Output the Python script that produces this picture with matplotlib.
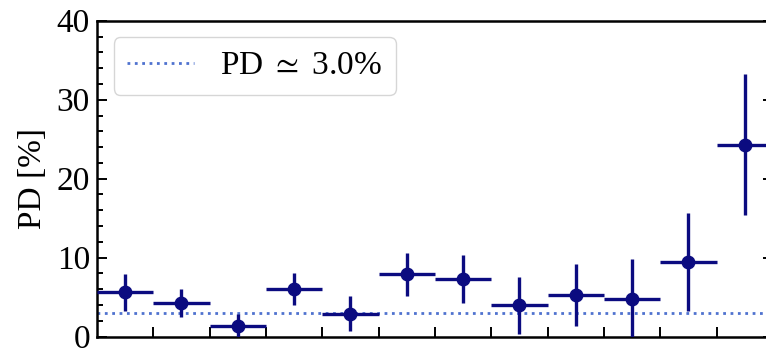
import matplotlib
matplotlib.use("Agg")
import matplotlib.pyplot as plt
import matplotlib.ticker as mticker
import numpy as np

# DATA
bin_centers = [0.5, 1.5, 2.5, 3.5, 4.5, 5.5, 6.5, 7.5, 8.5, 9.5, 10.5, 11.5]
bin_halfwidth = [0.5] * 12
pd_values = [5.6, 4.3, 1.4, 6.0, 2.9, 7.9, 7.3, 4.0, 5.3, 4.8, 9.4, 24.3]
pd_errors = [2.3, 1.8, 1.5, 2.0, 2.2, 2.7, 3.0, 3.6, 3.9, 5.0, 6.2, 8.9]
pd_mean = 3.0
y_ticks = [0, 10, 20, 30, 40]
x_edges = [1, 2, 3, 4, 5, 6, 7, 8, 9, 10, 11]

plt.rcParams["font.family"] = ["Liberation Serif", "DejaVu Serif"]
plt.rcParams["mathtext.fontset"] = "stix"
plt.rcParams["font.size"] = 24

fig = plt.figure(figsize=(7.66, 3.48), dpi=100)
ax = fig.add_axes([0.1266, 0.0325, 0.8825, 0.908])

ax.axhline(pd_mean, color="#4f72cf", linestyle=":", linewidth=2.0,
           label=rf"PD $\simeq$ {pd_mean:.1f}%")
ax.errorbar(bin_centers, pd_values, xerr=bin_halfwidth, yerr=pd_errors,
            fmt="o", color="#0b0b80", markersize=9, elinewidth=2.4,
            capsize=0, zorder=3)

ax.set_xlim(0, 12)
ax.set_ylim(0, 40)
ax.set_yticks(y_ticks)
ax.yaxis.set_minor_locator(mticker.MultipleLocator(2))
ax.set_xticks(x_edges)
ax.set_xticklabels([])
ax.set_ylabel("PD [%]", labelpad=6)

ax.tick_params(which="both", direction="in", right=True, width=1.4)
ax.tick_params(which="major", length=7, pad=5)
ax.tick_params(which="minor", length=4)
for sp in ax.spines.values():
    sp.set_linewidth(1.8)

ax.legend(loc="upper left", fontsize=24)

fig.savefig("out.png", dpi=100)
